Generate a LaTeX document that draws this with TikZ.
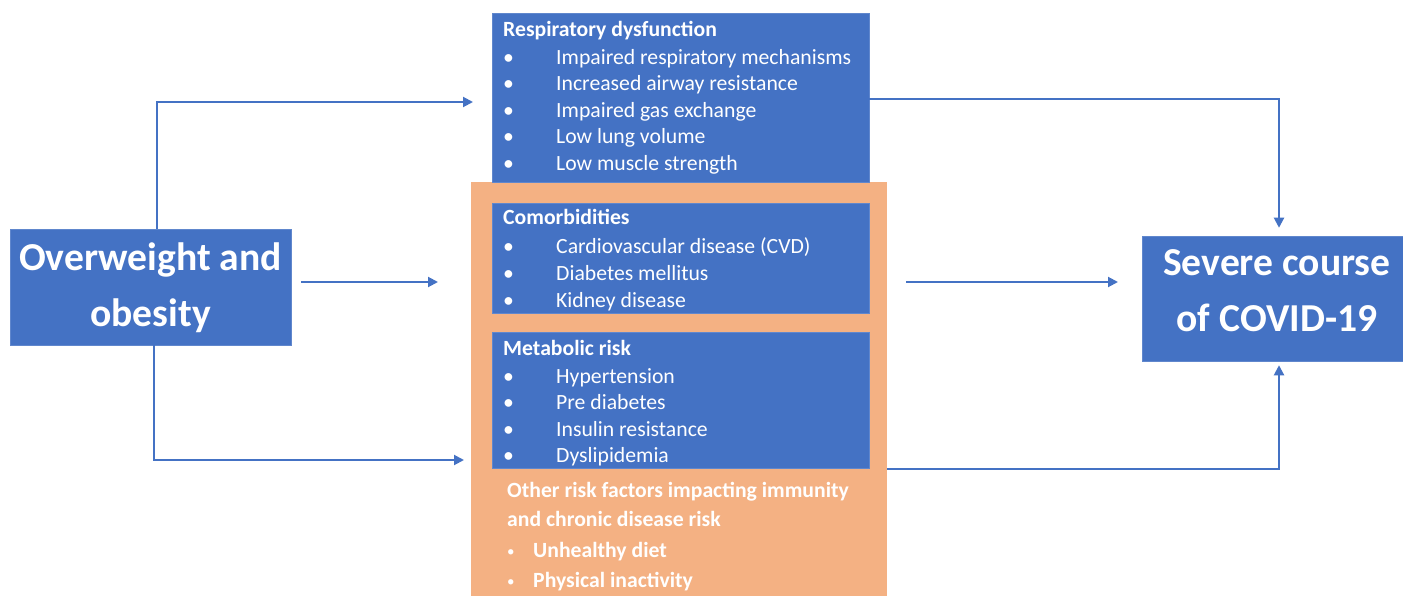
\documentclass[tikz,border=0pt]{standalone}
\usepackage{fontspec}
\setmainfont{Carlito}
\usetikzlibrary{arrows.meta}
\definecolor{blueA}{HTML}{4472C4}
\definecolor{orangeA}{HTML}{F4B183}
\tikzset{
  box/.style={fill=blueA, draw=blueA!85!white, line width=0.5pt, inner sep=0pt},
  obox/.style={fill=orangeA, draw=none, inner sep=0pt},
  txt/.style={anchor=base west, inner sep=0pt, text=white, font=\fontsize{21.7}{25}\selectfont},
  htxt/.style={txt, font=\fontsize{21.7}{25}\selectfont\bfseries},
  bigtxt/.style={anchor=base, inner sep=0pt, text=white, font=\fontsize{39.6}{50}\selectfont\bfseries},
  sbul/.style={anchor=base west, inner sep=0pt, text=white, font=\fontsize{15}{20}\selectfont},
  conn/.style={draw=blueA, line width=2pt, -{Triangle[length=10pt,width=10pt]}}
}
\begin{document}
\begin{tikzpicture}[x=1pt,y=-1pt]
\useasboundingbox (0,0) rectangle (1403,596);
% boxes
\node[obox, minimum width=416pt, minimum height=414pt] (orange) at (679,389) {};
\node[box, minimum width=377pt, minimum height=169pt] (resp) at (680.5,97.5) {};
\node[box, minimum width=377pt, minimum height=110pt] (como) at (680.5,258) {};
\node[box, minimum width=377pt, minimum height=136pt] (met) at (680.5,400) {};
\node[box, minimum width=281pt, minimum height=116pt] (ow) at (150.5,287) {};
\node[box, minimum width=261pt, minimum height=125pt] (sev) at (1272.5,298.5) {};
% big texts
\node[bigtxt] (ow1) at (150.5,270) {Overweight and};
\node[bigtxt] (ow2) at (150.5,326) {obesity};
\node[bigtxt] (sv1) at (1277,275) {Severe course};
\node[bigtxt] (sv2) at (1277,331) {of COVID-19};
% respiratory
\node[htxt] (rh) at (503,37) {Respiratory dysfunction};
\foreach \y/\t [count=\i] in {64.5/Impaired respiratory mechanisms, 91/Increased airway resistance, 117.5/Impaired gas exchange, 144/Low lung volume, 170.5/Low muscle strength}{
  \node[txt] (rb\i) at (503,\y) {•};
  \node[txt] (ri\i) at (556,\y) {\t};
}
% comorbidities
\node[htxt] (ch) at (503,225) {Comorbidities};
\foreach \y/\t [count=\i] in {254/Cardiovascular disease (CVD), 280.5/Diabetes mellitus, 307/Kidney disease}{
  \node[txt] (cb\i) at (503,\y) {•};
  \node[txt] (ci\i) at (556,\y) {\t};
}
% metabolic
\node[htxt] (mh) at (503,355) {Metabolic risk};
\foreach \y/\t [count=\i] in {383/Hypertension, 409.5/Pre diabetes, 436/Insulin resistance, 462.5/Dyslipidemia}{
  \node[txt] (mb\i) at (503,\y) {•};
  \node[txt] (mi\i) at (556,\y) {\t};
}
% other risk factors
\node[htxt] (oh1) at (507,497) {Other risk factors impacting immunity};
\node[htxt] (oh2) at (507,526) {and chronic disease risk};
\node[sbul] (ob1) at (507,556) {•};
\node[htxt] (oi1) at (533,557) {Unhealthy diet};
\node[sbul] (ob2) at (507,586) {•};
\node[htxt] (oi2) at (533,587) {Physical inactivity};
% connector end points
\coordinate (t1) at (473,102);
\coordinate (m0) at (301,282);
\coordinate (m1) at (438,282);
\coordinate (b1) at (464,460);
\coordinate (r0) at (906,282);
\coordinate (r1) at (1118,282);
% connectors
\draw[conn] ([xshift=147pt]ow.north west) |- (t1);
\draw[conn] (m0) -- (m1);
\draw[conn] ([xshift=144pt]ow.south west) |- (b1);
\draw[conn] ([yshift=-1.5pt]resp.east) -| ([xshift=6.5pt,yshift=8pt]sev.north);
\draw[conn] (r0) -- (r1);
\draw[conn] ([yshift=-1pt]orange.east |- met.south) -| ([xshift=6.5pt,yshift=-4pt]sev.south);
\end{tikzpicture}
\end{document}
